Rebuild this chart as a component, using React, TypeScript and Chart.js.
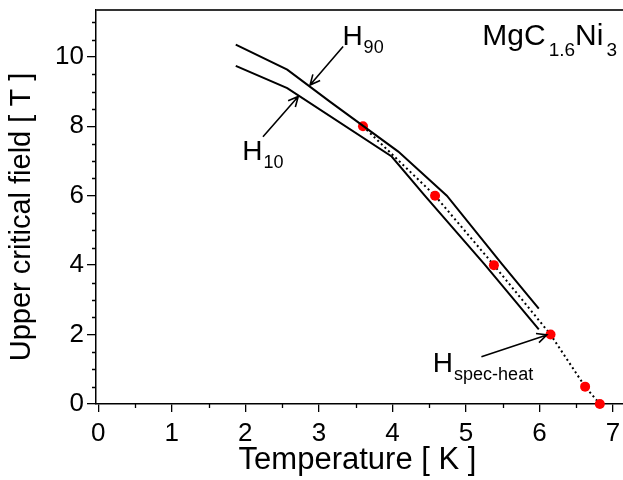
import { useEffect, useRef } from "react";
import { Chart, registerables } from "chart.js";

Chart.register(...registerables);

const FONT = '"Liberation Sans", Arial, Helvetica, sans-serif';

// H90 resistive transition curve: temperature [K], field [T]
const h90T = [1.87, 2.57, 3.15, 4.08, 4.74, 5.49, 5.99];
const h90H = [10.35, 9.63, 8.71, 7.27, 6.0, 4.03, 2.75];

// H10 resistive transition curve
const h10T = [1.87, 2.57, 3.99, 4.44, 5.25, 5.99];
const h10H = [9.74, 9.1, 7.13, 6.0, 4.03, 2.15];

// specific-heat points
const specT = [3.6, 4.58, 5.38, 6.15, 6.62, 6.82];
const specH = [8.0, 6.0, 4.0, 2.0, 0.5, 0.0];

const xTicks = [0, 1, 2, 3, 4, 5, 6, 7];
const yTicks = [0, 2, 4, 6, 8, 10];
const xMinorStep = 0.5;
const yMinorStep = 0.5;

// arrows in data space: [fromT, fromH, toT, toH]
const arrows = [
  [3.33, 10.3, 2.88, 9.19],
  [2.24, 7.7, 2.72, 8.86],
  [5.21, 1.36, 6.1, 1.99],
];
// labels in data space: [T, H, main, subscript]
const labels: [number, number, string, string][] = [
  [3.32, 10.35, "H", "90"],
  [1.96, 7.03, "H", "10"],
  [4.55, 0.93, "H", "spec-heat"],
];

const toPts = (t: number[], h: number[]) => t.map((v, i) => ({ x: v, y: h[i] }));

const extras = {
  id: "extras",
  afterDraw(chart: any) {
    const { ctx, chartArea, scales } = chart;
    const xs = scales.x;
    const ys = scales.y;
    ctx.save();
    ctx.fillStyle = "#000";

    // top frame line
    ctx.lineWidth = 2;
    ctx.strokeStyle = "#333";
    ctx.beginPath();
    ctx.moveTo(chartArea.left, chartArea.top);
    ctx.lineTo(chartArea.right, chartArea.top);
    ctx.stroke();

    // minor ticks
    ctx.strokeStyle = "#000";
    ctx.lineWidth = 1.3;
    ctx.beginPath();
    for (let v = xMinorStep; v < xs.max; v += 1) {
      const px = Math.round(xs.getPixelForValue(v)) + 0.5;
      ctx.moveTo(px, chartArea.bottom);
      ctx.lineTo(px, chartArea.bottom + 4);
    }
    for (let v = yMinorStep; v < ys.max; v += yMinorStep) {
      if (Math.abs(v / 2 - Math.round(v / 2)) < 1e-6) continue;
      const py = Math.round(ys.getPixelForValue(v)) + 0.5;
      ctx.moveTo(chartArea.left, py);
      ctx.lineTo(chartArea.left - 4, py);
    }
    ctx.stroke();

    // annotation arrows
    ctx.lineWidth = 1.6;
    for (const [t0, h0, t1, h1] of arrows) {
      const x0 = xs.getPixelForValue(t0);
      const y0 = ys.getPixelForValue(h0);
      const x1 = xs.getPixelForValue(t1);
      const y1 = ys.getPixelForValue(h1);
      const a = Math.atan2(y1 - y0, x1 - x0);
      const L = 11;
      const s = 0.45;
      ctx.beginPath();
      ctx.moveTo(x0, y0);
      ctx.lineTo(x1, y1);
      ctx.moveTo(x1 - L * Math.cos(a - s), y1 - L * Math.sin(a - s));
      ctx.lineTo(x1, y1);
      ctx.lineTo(x1 - L * Math.cos(a + s), y1 - L * Math.sin(a + s));
      ctx.stroke();
    }

    // annotation labels with subscripts
    ctx.textBaseline = "alphabetic";
    ctx.textAlign = "left";
    for (const [t, h, main, sub] of labels) {
      const px = xs.getPixelForValue(t);
      const py = ys.getPixelForValue(h);
      ctx.font = `28px ${FONT}`;
      ctx.fillText(main, px, py);
      const w = ctx.measureText(main).width;
      ctx.font = `18px ${FONT}`;
      ctx.fillText(sub, px + w + 1, py + 8);
    }

    // compound formula, top right
    const parts: [string, boolean][] = [
      ["MgC", false],
      ["1.6", true],
      ["Ni", false],
      ["3", true],
    ];
    const mainFont = `30px ${FONT}`;
    const subFont = `19px ${FONT}`;
    let total = 0;
    const widths: number[] = [];
    for (const [txt, isSub] of parts) {
      ctx.font = isSub ? subFont : mainFont;
      const w = ctx.measureText(txt).width + (isSub ? 3 : 0);
      widths.push(w);
      total += w;
    }
    let cx = chartArea.right - 6 - total;
    const base = chartArea.top + 35;
    parts.forEach(([txt, isSub], i) => {
      ctx.font = isSub ? subFont : mainFont;
      ctx.fillText(txt, cx + (isSub ? 3 : 0), isSub ? base + 11 : base);
      cx += widths[i];
    });

    // axis titles
    ctx.textAlign = "center";
    ctx.textBaseline = "alphabetic";
    ctx.font = `31px ${FONT}`;
    ctx.fillText("Temperature [ K ]", (chartArea.left + chartArea.right) / 2 - 2, 469);
    ctx.font = `29px ${FONT}`;
    ctx.textBaseline = "middle";
    ctx.save();
    ctx.translate(22, 217);
    ctx.rotate(-Math.PI / 2);
    ctx.fillText("Upper critical field [ T ]", 0, 0);
    ctx.restore();

    ctx.restore();
  },
};

export default function App() {
  const ref = useRef<HTMLCanvasElement | null>(null);

  useEffect(() => {
    document.body.style.margin = "0";
    const canvas = ref.current;
    if (!canvas) return;
    const chart = new Chart(canvas, {
      type: "line",
      data: {
        datasets: [
          {
            data: toPts(h90T, h90H),
            borderColor: "#000",
            borderWidth: 2,
            pointRadius: 0,
            tension: 0,
          },
          {
            data: toPts(h10T, h10H),
            borderColor: "#000",
            borderWidth: 2,
            pointRadius: 0,
            tension: 0,
          },
          {
            data: toPts(specT, specH),
            borderColor: "#000",
            borderWidth: 2,
            borderDash: [2, 3],
            pointRadius: 5,
            pointBackgroundColor: "#ff0000",
            pointBorderWidth: 0,
            pointBorderColor: "#ff0000",
            tension: 0,
            clip: false,
          },
        ],
      },
      options: {
        responsive: false,
        animation: false,
        devicePixelRatio: 1,
        layout: { autoPadding: false, padding: { top: 10, right: 0, left: 0, bottom: 0 } },
        plugins: {
          legend: { display: false },
          tooltip: { enabled: false },
        },
        scales: {
          x: {
            type: "linear",
            min: -0.03,
            max: 7.135,
            afterBuildTicks: (s: any) => {
              s.ticks = xTicks.map((v) => ({ value: v }));
            },
            afterFit: (s: any) => {
              s.height = 76;
              s.paddingLeft = 0;
              s.paddingRight = 0;
            },
            ticks: {
              color: "#000",
              font: { family: FONT, size: 26 },
              padding: 6,
              maxRotation: 0,
              autoSkip: false,
            },
            grid: {
              drawOnChartArea: false,
              drawTicks: true,
              tickLength: 8,
              color: "#000",
              lineWidth: 1.3,
            },
            border: { display: true, color: "#000", width: 1.5 },
          },
          y: {
            type: "linear",
            min: 0,
            max: 11.35,
            afterBuildTicks: (s: any) => {
              s.ticks = yTicks.map((v) => ({ value: v }));
            },
            afterFit: (s: any) => {
              s.width = 96;
              s.paddingTop = 0;
              s.paddingBottom = 0;
            },
            ticks: {
              color: "#000",
              font: { family: FONT, size: 26 },
              padding: 3,
              autoSkip: false,
            },
            grid: {
              drawOnChartArea: false,
              drawTicks: true,
              tickLength: 9,
              color: "#000",
              lineWidth: 1.3,
            },
            border: { display: true, color: "#000", width: 1.5 },
          },
        },
      },
      plugins: [extras],
    });
    return () => chart.destroy();
  }, []);

  return <canvas ref={ref} width={623} height={480} style={{ display: "block", width: 623, height: 480 }} />;
}
